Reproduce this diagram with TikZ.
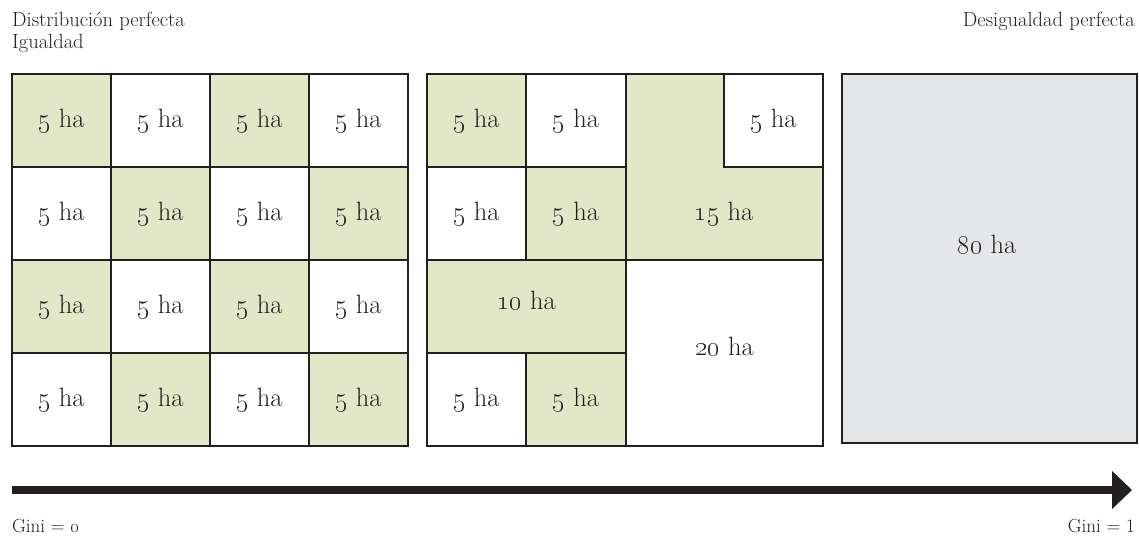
\RequirePackage{fix-cm}
\documentclass[tikz,border=0pt]{standalone}
\usetikzlibrary{arrows.meta}
\definecolor{gfill}{RGB}{226,232,199}
\definecolor{grayfill}{RGB}{229,230,232}
\definecolor{ink}{RGB}{35,31,32}
\begin{document}
\begin{tikzpicture}[x=1pt,y=-1pt,
  cell/.style={draw=ink,line width=2.6pt},
  lab/.style={inner sep=0pt,text=ink,font=\fontsize{26.5}{30}\selectfont},
  captext/.style={inner sep=0pt,text=ink,font=\fontsize{20.5}{24}\selectfont},
  ginitext/.style={inner sep=0pt,text=ink,font=\fontsize{19}{22}\selectfont}]
\useasboundingbox (0,0) rectangle (1139,537);
% grid 1
\foreach \r in {0,1,2,3}{
  \foreach \c in {0,1,2,3}{
    \pgfmathtruncatemacro{\parity}{mod(\r+\c,2)}
    \ifnum\parity=0 \def\fc{gfill}\else\def\fc{white}\fi
    \draw[cell,fill=\fc] ({12+99*\c},{74+93*\r}) rectangle ({111+99*\c},{167+93*\r});
    \node[lab] (g1-\r-\c) at ({61.5+99*\c},{120.5+93*\r}) {\oldstylenums{5} ha};
  }
}
% grid 2
\draw[cell,fill=gfill] (427,74) rectangle (526,167);
\draw[cell,fill=white] (526,74) rectangle (626,167);
\draw[cell,fill=white] (427,167) rectangle (526,260);
\draw[cell,fill=gfill] (526,167) rectangle (626,260);
\draw[cell,fill=gfill] (626,74) -- (724,74) -- (724,167) -- (823,167) -- (823,260) -- (626,260) -- cycle;
\draw[cell,fill=white] (724,74) rectangle (823,167);
\draw[cell,fill=gfill] (427,260) rectangle (626,353);
\draw[cell,fill=white] (626,260) rectangle (823,446);
\draw[cell,fill=white] (427,353) rectangle (526,446);
\draw[cell,fill=gfill] (526,353) rectangle (626,446);
\node[lab] (b1) at (476.5,120.5) {\oldstylenums{5} ha};
\node[lab] (b2) at (576,120.5) {\oldstylenums{5} ha};
\node[lab] (b3) at (773.5,120.5) {\oldstylenums{5} ha};
\node[lab] (b4) at (476.5,213.5) {\oldstylenums{5} ha};
\node[lab] (b5) at (576,213.5) {\oldstylenums{5} ha};
\node[lab] (b15) at (724,213.5) {\oldstylenums{15} ha};
\node[lab] (b10) at (526.5,300) {\oldstylenums{10} ha};
\node[lab] (b20) at (724.5,346) {\oldstylenums{20} ha};
\node[lab] (b6) at (476.5,399.5) {\oldstylenums{5} ha};
\node[lab] (b7) at (576,399.5) {\oldstylenums{5} ha};
% grid 3
\draw[cell,fill=grayfill] (842,74) rectangle (1137,443);
\node[lab] (b80) at (987,244) {\oldstylenums{80} ha};
% captions
\node[captext,anchor=base west] (t1) at (12,27) {Distribución perfecta};
\node[captext,anchor=base west] (t2) at (12,49) {Igualdad};
\node[captext,anchor=base east] (t3) at (1135,27) {Desigualdad perfecta};
\node[ginitext,anchor=base west] (g0) at (12,532) {Gini = \oldstylenums{0}};
\node[ginitext,anchor=base east] (g1) at (1135,532) {Gini = 1};
% arrow
\coordinate (a0) at (12,490);
\coordinate (a1) at (1132,490);
\draw[ink,line width=8pt,-{Triangle[length=20pt,width=37pt]}] (a0) -- (a1);
\end{tikzpicture}
\end{document}
